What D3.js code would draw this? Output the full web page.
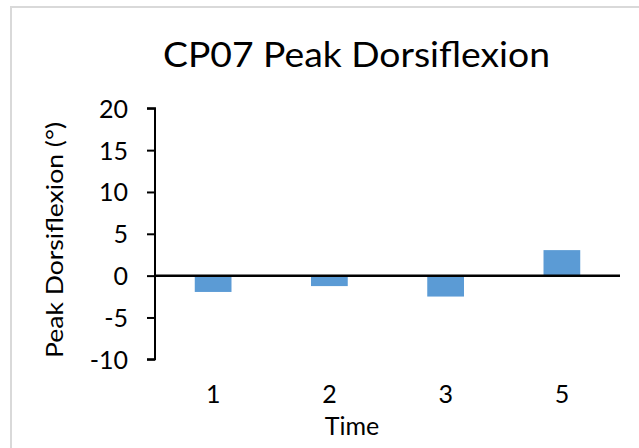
<!DOCTYPE html>
<html>
<head>
<meta charset="utf-8">
<script src="https://cdn.jsdelivr.net/npm/d3@7/dist/d3.min.js"></script>
<style>
  html, body { margin: 0; padding: 0; background: #fff; }
  svg text { font-family: Lato, "Open Sans", sans-serif; fill: #000; }
</style>
</head>
<body>
<svg id="chart" width="639" height="448"></svg>
<script>
// Peak dorsiflexion per session
const categories = ["1", "2", "3", "5"];
const values = [-1.95, -1.25, -2.5, 3.05];
const yTicks = [-10, -5, 0, 5, 10, 15, 20];

const svg = d3.select("#chart");
const W = 639, H = 448;
const plot = { left: 155, right: 620, top: 108.3, bottom: 359.3 };
const FONT = "Lato, 'Open Sans', sans-serif";

// outer chart frame
svg.append("rect")
  .attr("x", 11).attr("y", 7)
  .attr("width", W).attr("height", H)
  .attr("fill", "none")
  .attr("stroke", "#d9d9d9")
  .attr("stroke-width", 2);

const x = d3.scaleBand()
  .domain(categories)
  .range([plot.left, plot.right])
  .paddingInner(0.684)
  .paddingOuter(0.342);

const y = d3.scaleLinear()
  .domain([-10, 20])
  .range([plot.bottom, plot.top]);

// bars
svg.append("g").selectAll("rect")
  .data(values)
  .join("rect")
  .attr("x", (d, i) => x(categories[i]))
  .attr("width", x.bandwidth())
  .attr("y", d => y(Math.max(0, d)))
  .attr("height", d => Math.abs(y(d) - y(0)))
  .attr("fill", "#5b9bd5");

// y axis
const yAxis = svg.append("g")
  .attr("transform", `translate(${plot.left},0)`)
  .call(d3.axisLeft(y).tickValues(yTicks).tickSize(8).tickPadding(19).tickFormat(d => d < 0 ? "-" + Math.abs(d) : String(d)));
yAxis.select(".domain").attr("stroke", "#000").attr("stroke-width", 2)
  .attr("d", `M-8,${plot.top}H0V${plot.bottom}H-8`);
yAxis.selectAll(".tick line").attr("stroke", "#000").attr("stroke-width", 2);
yAxis.selectAll(".tick text")
  .attr("dy", "0.36em")
  .style("font-family", FONT)
  .style("font-size", "25px")
  .attr("fill", "#000");

// zero baseline with category axis
const xAxis = svg.append("g")
  .attr("transform", `translate(0,${y(0)})`)
  .call(d3.axisBottom(x).tickSize(0).tickPadding(0));
xAxis.select(".domain").attr("stroke", "#000").attr("stroke-width", 2.5)
  .attr("d", `M${plot.left},0H${plot.right}`);
xAxis.selectAll(".tick text")
  .attr("y", 403 - y(0))
  .attr("dy", 0)
  .style("font-family", FONT)
  .style("font-size", "25px")
  .attr("fill", "#000");

// title
svg.append("text")
  .attr("x", 163).attr("y", 67)
  .attr("textLength", 387)
  .attr("lengthAdjust", "spacingAndGlyphs")
  .style("font-size", "35px")
  .text("CP07 Peak Dorsiflexion");

// axis titles
svg.append("text")
  .attr("x", 352).attr("y", 435)
  .attr("text-anchor", "middle")
  .style("font-size", "25px")
  .text("Time");

svg.append("text")
  .attr("transform", "translate(63,240) rotate(-90)")
  .attr("text-anchor", "middle")
  .attr("textLength", 236)
  .attr("lengthAdjust", "spacingAndGlyphs")
  .style("font-size", "23px")
  .text("Peak Dorsiflexion (°)");
</script>
</body>
</html>
